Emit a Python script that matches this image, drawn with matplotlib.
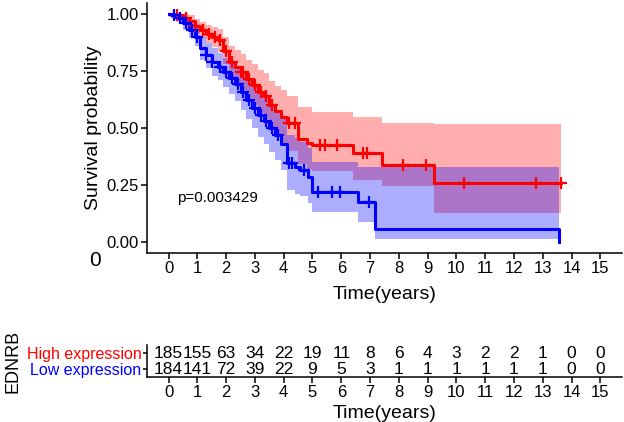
import matplotlib
matplotlib.use("Agg")
import matplotlib.pyplot as plt
import numpy as np

plt.rcParams['font.family'] = ['Liberation Sans', 'DejaVu Sans']

# high expression group (red)
hi_t = [0, 0.3, 0.5, 0.7, 0.9, 1.1, 1.3, 1.5, 1.7, 1.9, 2.1, 2.3, 2.5, 2.7, 2.9,
        3.1, 3.3, 3.5, 3.7, 3.9, 4.1, 4.5, 4.8, 5.0, 6.4, 7.4, 9.23, 13.65]
hi_s = [1.0, 0.995, 0.985, 0.97, 0.95, 0.93, 0.915, 0.90, 0.885, 0.84, 0.79, 0.77, 0.745, 0.715, 0.69,
        0.66, 0.64, 0.60, 0.575, 0.55, 0.52, 0.45, 0.435, 0.425, 0.39, 0.338, 0.259, 0.259]
hi_up = [1.0, 1.0, 1.0, 0.995, 0.98, 0.965, 0.955, 0.945, 0.935, 0.90, 0.86, 0.845, 0.825, 0.80, 0.78,
         0.755, 0.74, 0.705, 0.685, 0.665, 0.64, 0.592, 0.592, 0.570, 0.548, 0.522, 0.518, 0.518]
hi_lo = [1.0, 0.985, 0.967, 0.945, 0.92, 0.895, 0.875, 0.855, 0.835, 0.78, 0.72, 0.695, 0.665, 0.63, 0.60,
         0.565, 0.54, 0.495, 0.465, 0.435, 0.40, 0.34, 0.32, 0.31, 0.27, 0.245, 0.127, 0.127]
hi_cens = [0.3, 0.6, 0.9, 1.2, 1.4, 1.6, 1.8, 2.0, 2.2, 2.5, 2.6, 2.8, 3.0, 3.2, 3.4, 3.6,
           4.2, 4.4, 5.25, 5.45, 5.84, 6.74, 6.9, 8.16, 8.95, 10.27, 12.76, 13.65]

# low expression group (blue)
lo_t = [0, 0.1, 0.3, 0.5, 0.7, 0.9, 1.1, 1.3, 1.5, 1.7, 1.9, 2.1, 2.3, 2.5, 2.7, 2.9,
        3.1, 3.3, 3.5, 3.7, 3.9, 4.1, 4.4, 4.56, 4.84, 4.98, 6.57, 7.16, 13.58]
lo_s = [1.0, 0.995, 0.985, 0.96, 0.93, 0.90, 0.85, 0.82, 0.79, 0.77, 0.745, 0.72, 0.695, 0.66, 0.625, 0.59,
        0.555, 0.53, 0.50, 0.47, 0.43, 0.346, 0.33, 0.316, 0.285, 0.219, 0.175, 0.057, 0.0]
lo_up = [1.0, 1.0, 1.0, 0.99, 0.965, 0.94, 0.90, 0.875, 0.85, 0.83, 0.81, 0.79, 0.77, 0.74, 0.71, 0.68,
         0.65, 0.63, 0.605, 0.58, 0.545, 0.47, 0.455, 0.44, 0.41, 0.35, 0.33, 0.33, 0.33]
lo_lo = [1.0, 0.985, 0.967, 0.93, 0.895, 0.86, 0.80, 0.765, 0.73, 0.71, 0.68, 0.65, 0.62, 0.58, 0.54, 0.50,
         0.46, 0.43, 0.395, 0.36, 0.315, 0.225, 0.21, 0.20, 0.17, 0.13, 0.088, 0.013, 0.013]
lo_cens = [0.2, 0.4, 0.6, 0.8, 1.0, 1.3, 1.5, 1.8, 2.0, 2.2, 2.4, 2.6, 2.8, 3.0, 3.2, 3.4,
           3.6, 3.8, 4.2, 4.3, 4.7, 5.19, 5.67, 5.94, 6.98]

# number at risk
risk_times = list(range(16))
hi_risk = [185, 155, 63, 34, 22, 19, 11, 8, 6, 4, 3, 2, 2, 1, 0, 0]
lo_risk = [184, 141, 72, 39, 22, 9, 5, 3, 1, 1, 1, 1, 1, 1, 0, 0]
groups = ["Low expression", "High expression"]

RED = "#FF0000"
BLUE = "#0000FF"

fig = plt.figure(figsize=(6.24, 4.22), dpi=100)
ax = fig.add_axes([0.2356, 0.4005, 0.761, 0.5924])

def step_at(t, s, x):
    i = np.searchsorted(t, x, side='right') - 1
    return np.asarray(s)[i]

ax.step(hi_t, hi_s, where='post', color=RED, lw=2.2)
ax.step(lo_t, lo_s, where='post', color=BLUE, lw=2.2)
ax.fill_between(hi_t, hi_lo, hi_up, step='post', color=RED, alpha=0.32, lw=0)
ax.fill_between(lo_t, lo_lo, lo_up, step='post', color=BLUE, alpha=0.32, lw=0)
ax.plot(hi_cens, step_at(hi_t, hi_s, hi_cens), ls='none', marker='+', color=RED, ms=8, mew=1.6)
ax.plot(lo_cens, step_at(lo_t, lo_s, lo_cens), ls='none', marker='+', color=BLUE, ms=8, mew=1.6)

ax.text(0.31, 0.19, "p=0.003429", fontsize=11, ha='left', va='center')

ax.set_xlim(-0.75, 15.75)
ax.set_ylim(-0.05, 1.05)
ax.set_xticks(range(16))
ax.set_yticks([0, 0.25, 0.5, 0.75, 1.0])
ax.set_yticklabels(["0.00", "0.25", "0.50", "0.75", "1.00"])
ax.set_xlabel("Time(years)", fontsize=14, labelpad=7)
ax.set_ylabel("Survival probability", fontsize=14, labelpad=3)
for sp in ['top', 'right']:
    ax.spines[sp].set_visible(False)
for sp in ['left', 'bottom']:
    ax.spines[sp].set_linewidth(1.1)
ax.tick_params(labelsize=12, length=4, width=1.1, pad=2)

fig.text(95 / 624, 1 - 261 / 422, "0", fontsize=15, ha='center', va='center')

# risk table
tx = fig.add_axes([0.2356, 0.1066, 0.761, 0.0758])
for t, h, l in zip(risk_times, hi_risk, lo_risk):
    tx.text(t, 2, str(h), ha='center', va='center', fontsize=12.5)
    tx.text(t, 1, str(l), ha='center', va='center', fontsize=12.5)
tx.set_xlim(-0.75, 15.75)
tx.set_ylim(0.5, 2.5)
tx.set_xticks(range(16))
tx.set_yticks([1, 2])
tx.set_yticklabels(groups, fontsize=11.5)
for lab, c in zip(tx.get_yticklabels(), [BLUE, RED]):
    lab.set_color(c)
tx.set_xlabel("Time(years)", fontsize=14, labelpad=3)
tx.set_ylabel("EDNRB", fontsize=13, labelpad=4)
for sp in ['top', 'right']:
    tx.spines[sp].set_visible(False)
for sp in ['left', 'bottom']:
    tx.spines[sp].set_linewidth(1.1)
tx.tick_params(axis='x', labelsize=12, length=4, width=1.1, pad=2)
tx.tick_params(axis='y', length=3, width=1.1, pad=1)

fig.savefig("out.png", dpi=100)
